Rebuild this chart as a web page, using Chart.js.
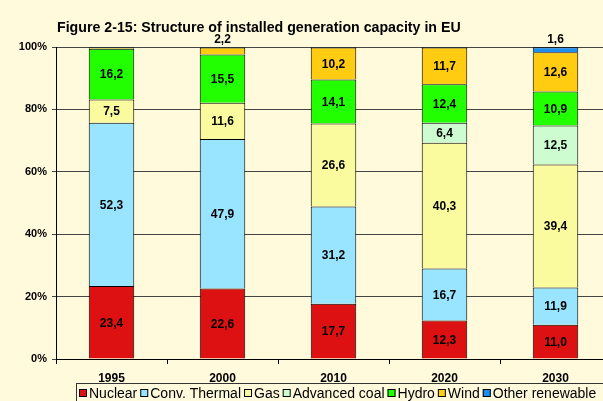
<!DOCTYPE html>
<html>
<head>
<meta charset="utf-8">
<script src="https://cdn.jsdelivr.net/npm/chart.js@4"></script>
<style>
  html, body { margin: 0; padding: 0; background: #FFFADC; }
  #wrap { width: 603px; height: 401px; overflow: hidden; position: relative; }
</style>
</head>
<body>
<div id="wrap"><canvas id="chart" width="620" height="401"></canvas></div>
<script>
const years = ['1995', '2000', '2010', '2020', '2030'];
const nuclear = [23.4, 22.6, 17.7, 12.3, 11.0];
const convThermal = [52.3, 47.9, 31.2, 16.7, 11.9];
const gas = [7.5, 11.6, 26.6, 40.3, 39.4];
const advancedCoal = [0, 0, 0, 6.4, 12.5];
const hydro = [16.2, 15.5, 14.1, 12.4, 10.9];
const wind = [0.4, 2.2, 10.2, 11.7, 12.6];
const otherRenewable = [0.2, 0.2, 0.2, 0.2, 1.6];
const yTicks = [0, 20, 40, 60, 80, 100];

const titleText = 'Figure 2-15: Structure of installed generation capacity in EU';
const FONT = '"Liberation Sans", Arial, sans-serif';

const series = [
  { label: 'Nuclear', data: nuclear, color: '#DD1111' },
  { label: 'Conv. Thermal', data: convThermal, color: '#99E4FF' },
  { label: 'Gas', data: gas, color: '#FAFA9E' },
  { label: 'Advanced coal', data: advancedCoal, color: '#CCFCD0' },
  { label: 'Hydro', data: hydro, color: '#22FF00' },
  { label: 'Wind', data: wind, color: '#FFCC11' },
  { label: 'Other renewable', data: otherRenewable, color: '#1E8FF0' }
];

// numbers inside the segments, small ones above the bar
const segLabels = {
  id: 'segLabels',
  afterDatasetsDraw(chart) {
    const ctx = chart.ctx;
    ctx.save();
    ctx.font = 'bold 12px ' + FONT;
    ctx.fillStyle = '#000';
    ctx.textAlign = 'center';
    ctx.textBaseline = 'middle';
    chart.data.datasets.forEach((ds, i) => {
      const meta = chart.getDatasetMeta(i);
      meta.data.forEach((bar, j) => {
        const v = ds.data[j];
        const txt = v.toFixed(1).replace('.', ',');
        if (v >= 3) ctx.fillText(txt, bar.x, (bar.y + bar.base) / 2 + 1);
        else if (v >= 1) ctx.fillText(txt, bar.x, chart.chartArea.top - 7);
      });
    });
    ctx.restore();
  }
};

// title + boxed legend like the original figure
const decor = {
  id: 'decor',
  afterDraw(chart) {
    const ctx = chart.ctx;
    ctx.save();
    ctx.fillStyle = '#000';
    ctx.font = 'bold 14.2px ' + FONT;
    ctx.textAlign = 'left';
    ctx.textBaseline = 'alphabetic';
    ctx.fillText(titleText, 57, 31.5);

    ctx.strokeStyle = '#333';
    ctx.lineWidth = 1;
    ctx.strokeRect(76.5, 383.5, 600, 40);
    ctx.font = '14px ' + FONT;
    ctx.textBaseline = 'middle';
    let x = 79;
    const y = 393;
    chart.data.datasets.forEach(ds => {
      ctx.fillStyle = ds.backgroundColor;
      ctx.fillRect(x, y - 4, 8, 8);
      ctx.strokeStyle = '#000';
      ctx.strokeRect(x + 0.5, y - 3.5, 7, 7);
      ctx.fillStyle = '#000';
      ctx.fillText(ds.label, x + 10, y + 1);
      x += 10 + ctx.measureText(ds.label).width + 3;
    });
    ctx.restore();
  }
};

new Chart(document.getElementById('chart'), {
  type: 'bar',
  data: {
    labels: years,
    datasets: series.map(s => ({
      label: s.label,
      data: s.data,
      backgroundColor: s.color,
      borderColor: '#000',
      borderWidth: 1,
      categoryPercentage: 1,
      barPercentage: 0.41
    }))
  },
  options: {
    responsive: false,
    animation: false,
    layout: { padding: { left: 0, top: 47, right: 9, bottom: 18 } },
    plugins: {
      legend: { display: false },
      title: { display: false },
      tooltip: { enabled: false }
    },
    scales: {
      x: {
        stacked: true,
        afterFit(scale) { scale.height = 24; },
        grid: { display: true, drawOnChartArea: false, offset: true, tickLength: 5, color: '#000' },
        border: { color: '#000' },
        ticks: { color: '#000', padding: 7, font: { family: FONT, size: 12, weight: 'bold' } }
      },
      y: {
        stacked: true,
        min: 0,
        max: 100,
        afterFit(scale) { scale.width = 56; },
        afterBuildTicks(scale) { scale.ticks = yTicks.map(v => ({ value: v })); },
        grid: { color: '#444', tickLength: 4 },
        border: { color: '#000' },
        ticks: {
          color: '#000',
          padding: 5,
          font: { family: FONT, size: 11, weight: 'bold' },
          callback: v => v + '%'
        }
      }
    }
  },
  plugins: [segLabels, decor]
});
</script>
</body>
</html>
